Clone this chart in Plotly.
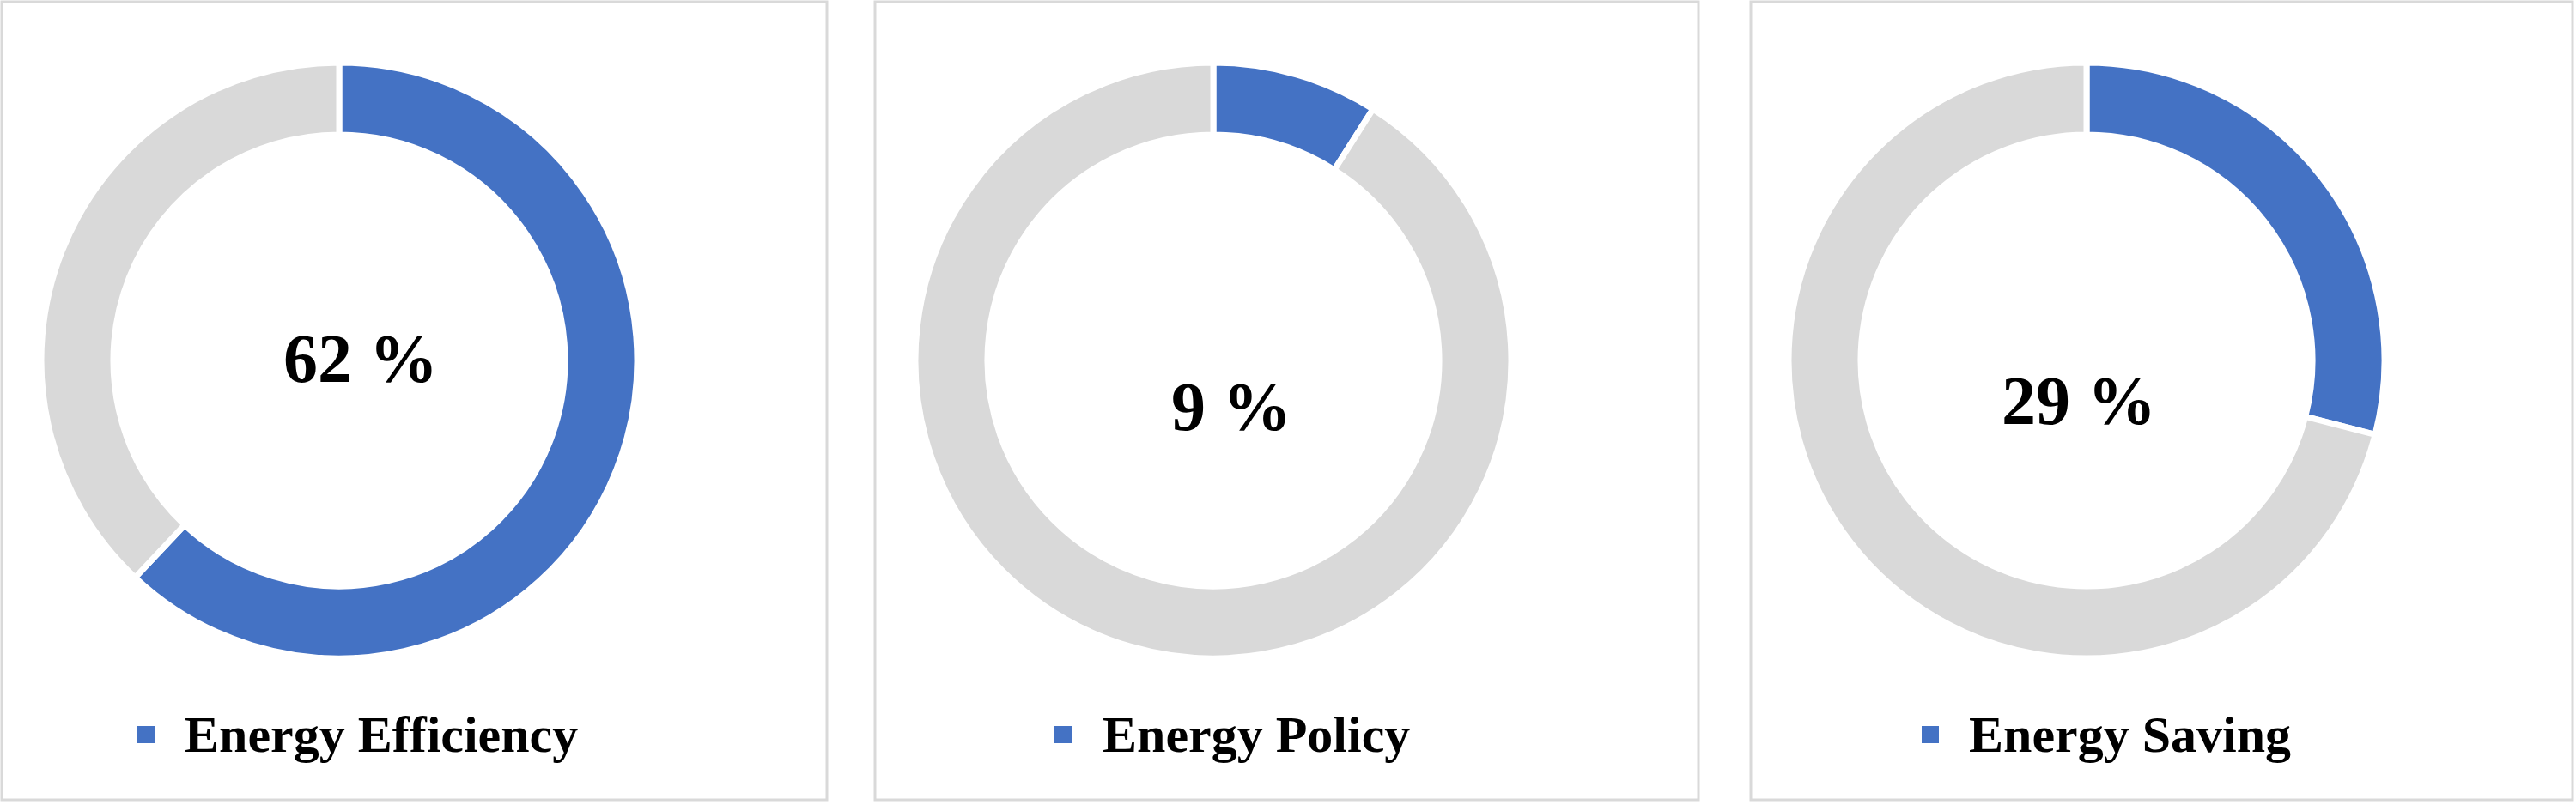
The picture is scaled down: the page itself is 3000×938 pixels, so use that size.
"""Three donut gauges: share of topics (Energy Efficiency / Policy / Saving)."""

import plotly.graph_objects as go

TOPICS = ["Energy Efficiency", "Energy Policy", "Energy Saving"]
SHARES = [62, 9, 29]
REST = [38, 91, 71]
SHARE_LABELS = ["62 %", "9 %", "29 %"]

BLUE = "#4472C4"
GREY = "#D9D9D9"
SERIF = "Liberation Serif, Times New Roman, serif"

W, H = 3000, 938

# pixel layout of each panel (box, donut centre, label offsets)
PANELS = [
    dict(box=(2, 963), cx=395, txt=(420, 418), leg=(170, 213)),
    dict(box=(1019, 1978), cx=1413, txt=(1434, 474), leg=(1238, 1282)),
    dict(box=(2039, 2996), cx=2430, txt=(2421, 467), leg=(2248, 2291)),
]
CY = 420
R = 347
LEG_Y = 856


def px(x):
    return x / W


def py(y):
    return 1 - y / H


fig = go.Figure()
shapes = []
annotations = []

for i, p in enumerate(PANELS):
    fig.add_trace(
        go.Pie(
            labels=[TOPICS[i], "Other"],
            values=[SHARES[i], REST[i]],
            hole=0.758,
            sort=False,
            direction="clockwise",
            rotation=0,
            marker=dict(colors=[BLUE, GREY], line=dict(color="white", width=7)),
            textinfo="none",
            hoverinfo="label+percent",
            showlegend=False,
            domain=dict(
                x=[px(p["cx"] - R), px(p["cx"] + R)],
                y=[py(CY + R), py(CY - R)],
            ),
        )
    )
    x0, x1 = p["box"]
    shapes.append(
        dict(
            type="rect", xref="paper", yref="paper",
            x0=px(x0), x1=px(x1), y0=py(932), y1=py(2),
            line=dict(color="#D9D9D9", width=3), layer="below",
        )
    )
    # legend marker + label
    sx, tx = p["leg"]
    shapes.append(
        dict(
            type="rect", xref="paper", yref="paper",
            x0=px(sx - 10), x1=px(sx + 10), y0=py(LEG_Y + 10), y1=py(LEG_Y - 10),
            fillcolor=BLUE, line=dict(width=0),
        )
    )
    annotations.append(
        dict(
            text=f"<b>{TOPICS[i]}</b>", xref="paper", yref="paper",
            x=px(tx), y=py(LEG_Y), xanchor="left", yanchor="middle",
            showarrow=False, font=dict(family=SERIF, size=60, color="black"),
        )
    )
    annotations.append(
        dict(
            text=f"<b>{SHARE_LABELS[i]}</b>", xref="paper", yref="paper",
            x=px(p["txt"][0]), y=py(p["txt"][1]), xanchor="center", yanchor="middle",
            showarrow=False, font=dict(family=SERIF, size=80, color="black"),
        )
    )

fig.update_layout(
    width=W,
    height=H,
    margin=dict(l=0, r=0, t=0, b=0),
    paper_bgcolor="white",
    plot_bgcolor="white",
    shapes=shapes,
    annotations=annotations,
)

# drop the browser's default body margin so the figure sits at the page origin
fig.write_html(
    "out.html",
    config={"displayModeBar": False},
    post_script="document.body.style.margin = '0';",
)
